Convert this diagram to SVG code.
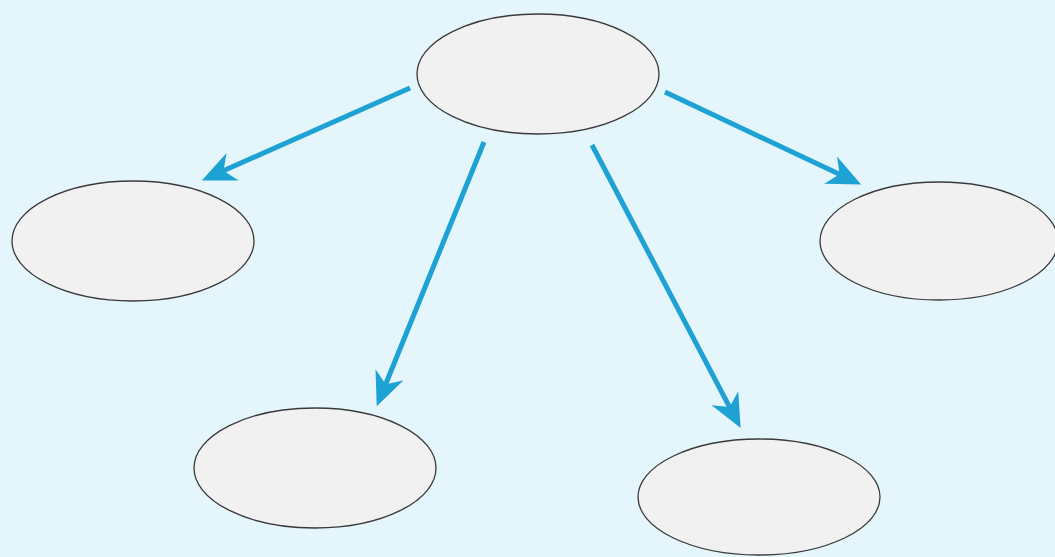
<svg xmlns="http://www.w3.org/2000/svg" width="1055" height="557" viewBox="0 0 1055 557">
<style>
.node{fill:#f1f1f1;stroke:#3a3a3a;stroke-width:1.3}
.edge{stroke:#1ea2d4;stroke-width:5;fill:none;stroke-linecap:butt}
</style>
<defs>
<marker id="ah" markerUnits="userSpaceOnUse" markerWidth="40" markerHeight="40" viewBox="-28 -14 32 28" refX="-14" refY="0" orient="auto">
<path d="M0,0 L-27,-12 L-19,0 L-27,12 Z" fill="#1ea2d4"/>
</marker>
</defs>
<rect width="1055" height="557" fill="#e5f5fc"/>
<g id="connectors">
<line class="edge" x1="410" y1="88" x2="217.8" y2="173.3" marker-end="url(#ah)"/>
<line class="edge" x1="484" y1="142" x2="383.3" y2="390" marker-end="url(#ah)"/>
<line class="edge" x1="592" y1="145" x2="732.5" y2="412.6" marker-end="url(#ah)"/>
<line class="edge" x1="665" y1="92" x2="845.3" y2="177" marker-end="url(#ah)"/>
</g>
<g id="n-top"><ellipse class="node" cx="538" cy="74" rx="121" ry="60"/></g>
<g id="n-left"><ellipse class="node" cx="133" cy="241" rx="121" ry="60"/></g>
<g id="n-right"><ellipse class="node" cx="939" cy="241" rx="119" ry="59"/></g>
<g id="n-bottom-left"><ellipse class="node" cx="315" cy="468" rx="121" ry="60"/></g>
<g id="n-bottom-right"><ellipse class="node" cx="759" cy="497" rx="121" ry="58"/></g>
</svg>
